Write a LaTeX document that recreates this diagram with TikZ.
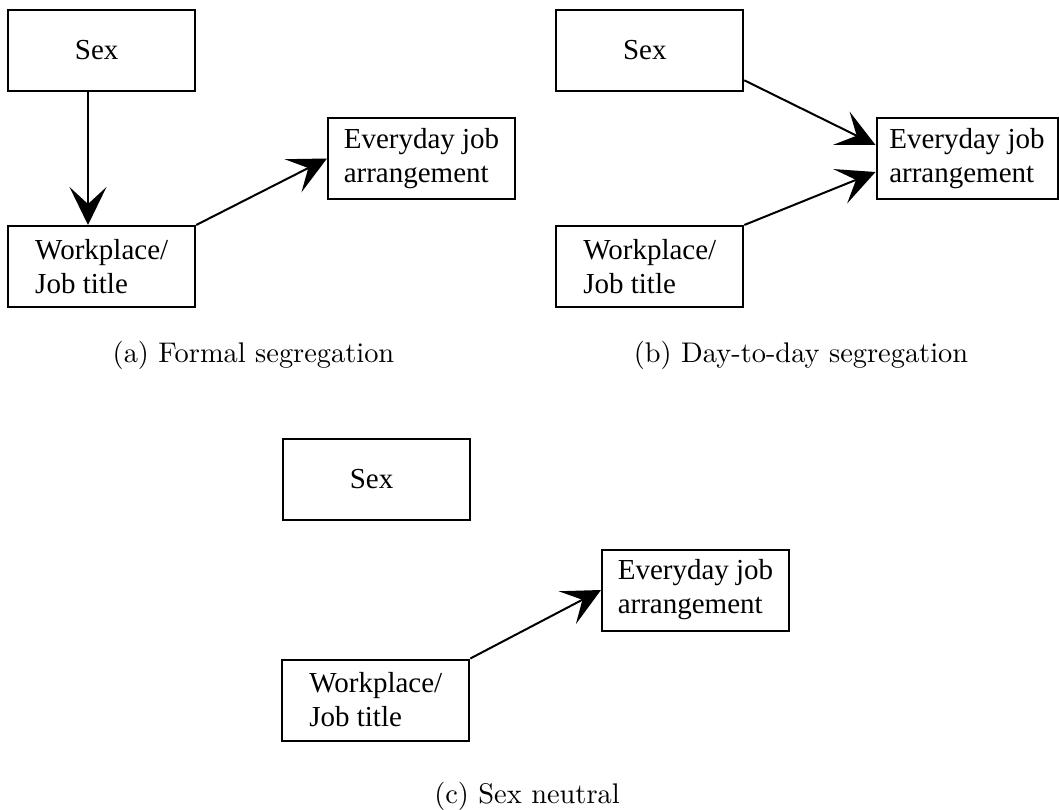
\documentclass[tikz,border=0pt]{standalone}
\usepackage{fontspec}
\setmainfont{Liberation Serif}
\newfontfamily\lmfont{Latin Modern Roman}
\usetikzlibrary{arrows.meta,calc}
\newcommand{\boxtextfont}{\rmfamily\fontsize{29}{34}\selectfont}
\tikzset{
  box/.style={draw, line width=2pt, rectangle, minimum width=187pt, minimum height=81pt,
    inner sep=0pt, align=left, font=\boxtextfont},
  link/.style={line width=2pt, -{Stealth[length=38pt,width=37pt,inset=17pt]}},
  captext/.style={inner sep=0pt}
}
\newcommand{\capt}[1]{\scalebox{2.84}{\lmfont\fontsize{10}{12}\selectfont #1}}
\newcommand{\sextext}{Sex\hspace*{10pt}}
\begin{document}
\begin{tikzpicture}[x=1pt,y=-1pt]
\useasboundingbox (0,0) rectangle (1059,810);
% (a)
\node[box] (sexa) at (101.7,50.3) {\sextext};
\node[box] (worka) at (101.7,266.5) {Workplace/\\Job title};
\node[box] (everya) at (421.5,158.5) {Everyday job\\arrangement};
\draw[link] ($(sexa.south)+(-13.7,0)$) -- ($(worka.north)+(-13.7,0)$);
\draw[link] (worka.north east) -- (everya.west);
\node[captext] (capa) at (253.5,355) {\capt{(a) Formal segregation}};
% (b)
\node[box] (sexb) at (649.8,50.3) {\sextext};
\node[box] (workb) at (649.8,266.5) {Workplace/\\Job title};
\node[box, minimum width=181pt] (everyb) at (967,158.5) {Everyday job\\arrangement};
\draw[link] ($(sexb.east)+(0,30)$) -- ($(everyb.west)+(0,-13.5)$);
\draw[link] (workb.north east) -- ($(everyb.west)+(0,13.5)$);
\node[captext] (capb) at (801,355) {\capt{(b) Day-to-day segregation}};
% (c)
\node[box] (sexc) at (376.5,479) {\sextext};
\node[box] (workc) at (375.8,700) {Workplace/\\Job title};
\node[box] (everyc) at (695.5,590) {Everyday job\\arrangement};
\draw[link] (workc.north east) -- (everyc.west);
\node[captext] (capc) at (527,796) {\capt{(c) Sex neutral}};
\end{tikzpicture}
\end{document}
